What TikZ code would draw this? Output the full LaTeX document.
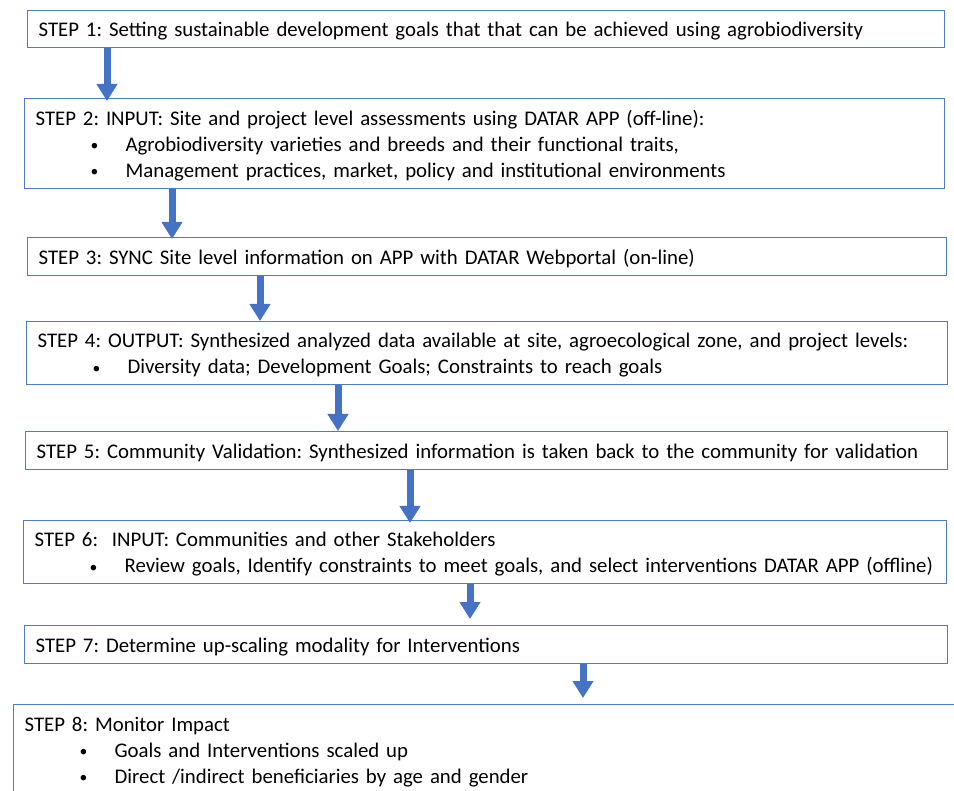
\documentclass[tikz,border=0pt]{standalone}
\usepackage{fontspec}
\setmainfont{Carlito}
\usetikzlibrary{arrows.meta}
\definecolor{boxblue}{HTML}{4F7BC6}
\definecolor{arrblue}{HTML}{4472C4}
\newcommand{\bitem}[1]{\makebox[90pt][l]{\hspace*{55pt}\raisebox{0.5pt}{\scalebox{0.75}{•}}}#1}
\begin{document}
\frenchspacing
\begin{tikzpicture}[x=1pt,y=-1pt,
  stepbox/.style={draw=boxblue, line width=1.2pt, anchor=north west, align=left,
    inner xsep=11pt, inner ysep=0pt, font=\fontsize{20.8}{26}\selectfont\frenchspacing, fill=white},
  flowarrow/.style={draw=arrblue, line width=7pt,
    -{Triangle[width=20pt,length=17pt,fill=arrblue]}, shorten >=0pt}]
\useasboundingbox (0,0) rectangle (954,791);
\clip (0,0) rectangle (954,791);

\node[stepbox, text width=895pt, minimum height=37pt] (b1) at (27,10)
  {\rule{0pt}{19pt}STEP 1: Setting sustainable development goals that that can be achieved using agrobiodiversity};
\node[stepbox, text width=898pt, minimum height=90pt] (b2) at (24,98)
  {\rule{0pt}{19pt}STEP 2: INPUT: Site and project level assessments using DATAR APP (off-line):\\
   \bitem{Agrobiodiversity varieties and breeds and their functional traits,}\\
   \bitem{Management practices, market, policy and institutional environments}};
\node[stepbox, text width=897pt, minimum height=38pt] (b3) at (27,237)
  {\rule{0pt}{19pt}STEP 3: SYNC Site level information on APP with DATAR Webportal (on-line)};
\node[stepbox, text width=899pt, minimum height=63pt] (b4) at (26,321)
  {\rule{0pt}{19pt}STEP 4: OUTPUT: Synthesized analyzed data available at site, agroecological zone, and project levels:\\
   \bitem{Diversity data; Development Goals; Constraints to reach goals}};
\node[stepbox, text width=900pt, minimum height=38pt] (b5) at (25,431)
  {\rule{0pt}{19pt}STEP 5: Community Validation: Synthesized information is taken back to the community for validation};
\node[stepbox, text width=901pt, minimum height=63pt] (b6) at (23,520)
  {\rule{0pt}{19pt}STEP 6:\ \ INPUT: Communities and other Stakeholders\\
   \bitem{Review goals, Identify constraints to meet goals, and select interventions DATAR APP (offline)}};
\node[stepbox, text width=901pt, minimum height=38pt] (b7) at (24,625)
  {\rule{0pt}{19pt}STEP 7: Determine up-scaling modality for Interventions};
\node[stepbox, text width=940pt, minimum height=90pt] (b8) at (13,704)
  {\rule{0pt}{19pt}STEP 8: Monitor Impact\\
   \bitem{Goals and Interventions scaled up}\\
   \bitem{Direct /indirect beneficiaries by age and gender}};

\coordinate (x1) at (107,0);
\coordinate (x2) at (172,0);
\coordinate (x3) at (260,0);
\coordinate (x4) at (338,0);
\coordinate (x5) at (410,0);
\coordinate (x6) at (470,0);
\coordinate (x7) at (583,0);

\draw[flowarrow] (b1.south -| x1) -- ([yshift=-3pt]b2.north -| x1);
\draw[flowarrow] (b2.south -| x2) -- ([yshift=-2pt]b3.north -| x2);
\draw[flowarrow] (b3.south -| x3) -- (b4.north -| x3);
\draw[flowarrow] (b4.south -| x4) -- (b5.north -| x4);
\draw[flowarrow] (b5.south -| x5) -- ([yshift=-3pt]b6.north -| x5);
\draw[flowarrow] (b6.south -| x6) -- ([yshift=6pt]b7.north -| x6);
\draw[flowarrow] (b7.south -| x7) -- ([yshift=6pt]b8.north -| x7);
\end{tikzpicture}
\end{document}
